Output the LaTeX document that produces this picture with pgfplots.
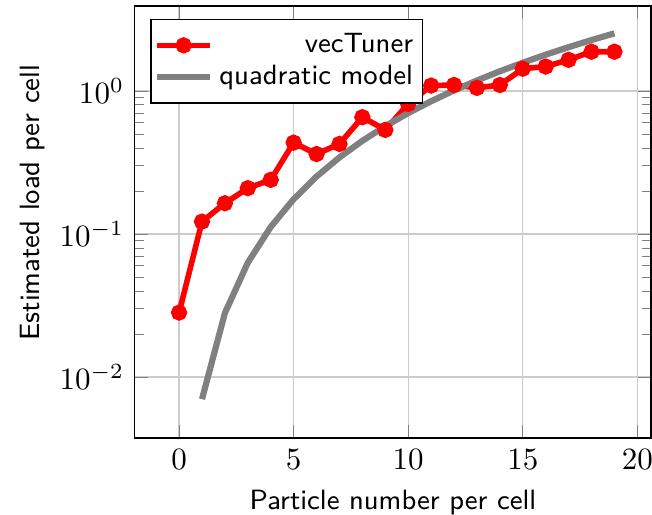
\documentclass[border=0pt]{standalone}
\usepackage{pgfplots}
\pgfplotsset{compat=1.18}
\begin{document}
\begin{tikzpicture}
\begin{axis}[
  scale only axis,
  width=166.5pt, height=139.4pt,
  ymode=log,
  xmin=-1.93, xmax=20.6,
  ymin=0.00374, ymax=3.93,
  xtick={0,5,10,15,20},
  ytick={0.01,0.1,1},
  grid=major,
  major grid style={lightgray!80},
  xlabel={Particle number per cell},
  ylabel={Estimated load per cell},
  label style={font=\sffamily\small},
  ylabel style={at={(axis description cs:-0.198,0.545)}, anchor=center},
  legend pos=north west,
  legend cell align=right,
  legend style={font=\sffamily\small, draw=black, inner xsep=1pt, inner ysep=2.5pt, row sep=-1.5pt},
]
\addplot[red, line width=1.8pt, mark=*, mark size=1.7pt] coordinates {
(0,0.0282) (1,0.122) (2,0.164) (3,0.209) (4,0.239) (5,0.435) (6,0.362)
(7,0.426) (8,0.655) (9,0.534) (10,0.811) (11,1.09) (12,1.10) (13,1.05)
(14,1.10) (15,1.43) (16,1.48) (17,1.65) (18,1.88) (19,1.88)
};
\addlegendentry{vecTuner}
\addplot[gray, line width=2pt] coordinates {
(1,0.0070) (2,0.028) (3,0.063) (4,0.112) (5,0.175) (6,0.252) (7,0.343)
(8,0.448) (9,0.567) (10,0.70) (11,0.847) (12,1.008) (13,1.183) (14,1.372)
(15,1.575) (16,1.792) (17,2.023) (18,2.268) (19,2.527)
};
\addlegendentry{quadratic model}
\end{axis}
\pgfresetboundingbox
\path ([xshift=-43.5pt,yshift=-24.8pt]current axis.south west) rectangle ([xshift=0.3pt,yshift=1.9pt]current axis.north east);
\end{tikzpicture}
\end{document}
